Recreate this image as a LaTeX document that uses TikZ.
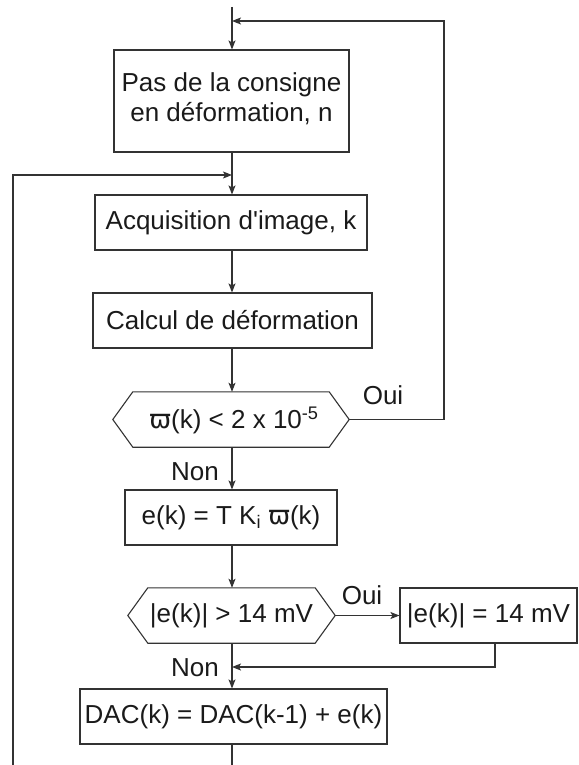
\documentclass[tikz,border=0pt]{standalone}
\usepackage{fontspec}
\setmainfont{Liberation Sans}
\newfontfamily\dvs{DejaVu Sans}
\usetikzlibrary{arrows.meta}
\definecolor{ln}{HTML}{333333}
\definecolor{tx}{HTML}{1A1A1A}
\begin{document}
\begin{tikzpicture}[x=1pt,y=-1pt,
  every node/.style={text=tx,font=\fontsize{26}{31}\selectfont,inner sep=0pt},
  box/.style={draw=ln,line width=1.1pt,minimum height=55pt,align=center},
  hexa/.style={minimum height=55pt},
  lbl/.style={},
  conn/.style={draw=ln,line width=1.1pt},
  arr/.style={conn,-{Stealth[length=9pt,width=7pt,inset=2pt]}}]
\useasboundingbox (0,0) rectangle (578,765);
% nodes
\node[box,minimum width=235pt,minimum height=102pt] (b1) at (231.5,101) {Pas de la consigne\\[-1pt]en déformation, n\\[-24pt]};
\node[box,minimum width=272pt] (b2) at (231,222.5) {Acquisition d\textquotesingle image, k};
\node[box,minimum width=279pt] (b3) at (232.5,320.5) {Calcul de déformation};
\node[hexa,minimum width=236pt] (d1) at (231,419.5) {};
\node at (234,420) {{\dvs ϖ}(k) < 2 x 10\textsuperscript{-5}};
\node[box,minimum width=212pt] (b4) at (231,517.5) {e(k) = T K\textsubscript{i} {\dvs ϖ}(k)};
\node[hexa,minimum width=207pt] (d2) at (231.5,615.5) {|e(k)| > 14 mV};
\node[box,minimum width=177pt] (b5) at (488.5,615.5) {|e(k)| = 14 mV};
\node[box,minimum width=307pt] (b6) at (233.5,716.5) {DAC(k) = DAC(k-1) + e(k)};
% hexagon outlines
\foreach \d in {d1,d2}{
  \draw[conn] (\d.west) -- ([xshift=20pt]\d.north west) -- ([xshift=-20pt]\d.north east)
    -- (\d.east) -- ([xshift=-20pt]\d.south east) -- ([xshift=20pt]\d.south west) -- cycle;
}
% labels
\node[lbl] (oui1) at (383,395) {Oui};
\node[lbl] (non1) at (195,472) {Non};
\node[lbl] (oui2) at (362,595) {Oui};
\node[lbl] (non2) at (195,668) {Non};
% coordinates
\coordinate (top) at (232,7);
\coordinate (j1) at (232,21);
\coordinate (r1) at (444,21);
\coordinate (r2) at (444,419.5);
\coordinate (j2) at (232,175);
\coordinate (l1) at (13,175);
\coordinate (l2) at (13,765);
\coordinate (bot) at (232,765);
\coordinate (c1) at (495,667);
\coordinate (j3) at (232,667);
% connectors
\draw[arr] (top) -- (b1.north -| top);
\draw[arr] (d1.east) -- (r2) -- (r1) -- (j1);
\draw[arr] (b1.south -| top) -- (b2.north -| top);
\draw[arr] (l2) -- (l1) -- (j2);
\draw[arr] (b2.south -| top) -- (b3.north -| top);
\draw[arr] (b3.south -| top) -- (d1.north -| top);
\draw[arr] (d1.south -| top) -- (b4.north -| top);
\draw[arr] (b4.south -| top) -- (d2.north -| top);
\draw[arr] (d2.east) -- (b5.west);
\draw[arr] (d2.south -| top) -- (b6.north -| top);
\draw[arr] (b5.south -| c1) -- (c1) -- (j3);
\draw[conn] (b6.south -| top) -- (bot);
\end{tikzpicture}
\end{document}
